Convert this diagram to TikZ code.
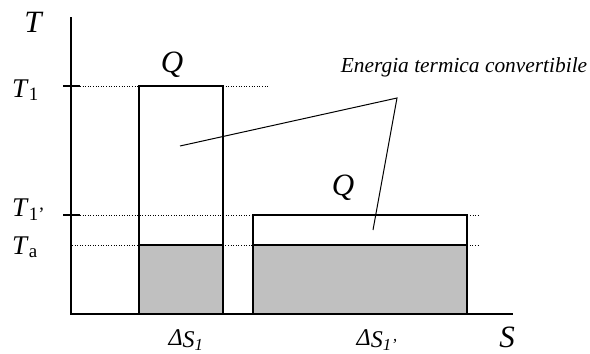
\documentclass[tikz,border=0pt]{standalone}
\usepackage{fontspec}
\setmainfont{Liberation Serif}

\begin{document}
\begin{tikzpicture}[x=1pt,y=-1pt,
  axisline/.style={draw=black,line width=2.6pt,line cap=butt,line join=miter},
  boxline/.style={draw=black,line width=2pt,line join=miter},
  guide/.style={draw=black,line width=0.6pt,dotted},
  pointer/.style={draw=black,line width=1pt,line join=miter},
  heat/.style={fill={rgb,255:red,192;green,192;blue,192}},
  biglabel/.style={anchor=base,inner sep=0pt,font=\fontsize{31}{34}\selectfont\itshape},
  templabel/.style={anchor=base west,inner sep=0pt,font=\fontsize{27}{30}\selectfont},
  entlabel/.style={anchor=base,inner sep=0pt,font=\fontsize{24}{26}\selectfont\itshape}]
% 590 x 354 px, T-S diagram, light appearance
\useasboundingbox (0,0) rectangle (590,354);
\coordinate (origin) at (71,314);
\coordinate (ttop) at (71,17);
\coordinate (send) at (513,314);
% gray parts below Ta
\path[heat] (139,245) rectangle (223,314);
\path[heat] (253,245) rectangle (467,314);
% dotted levels
\path[guide] (80,86) -- (268,86);
\path[guide] (80,215) -- (480,215);
\path[guide] (72,245) -- (480,245);
% boxes
\path[boxline] (139,314) rectangle (223,86);
\path[boxline] (139,245) -- (223,245);
\path[boxline] (253,314) rectangle (467,215);
\path[boxline] (253,245) -- (467,245);
% axes and ticks
\path[axisline] (ttop) -- (origin) -- (send);
\path[axisline] (63,86) -- (80,86);
\path[axisline] (63,215) -- (80,215);
% labels
\node[biglabel] (tlab) at (33,32) {T};
\node[biglabel] (slab) at (507,347) {S};
\node[biglabel] (qone) at (172,72) {Q};
\node[biglabel] (qtwo) at (343,195) {Q};
\node[templabel] (tone) at (12,97) {\textit{T}\textsubscript{1}};
\node[templabel] (toneb) at (12,216) {\textit{T}\textsubscript{1’}};
\node[templabel] (tamb) at (12,254) {\textit{T}\textsubscript{a}};
\node[entlabel] (dsone) at (186,345) {\textit{Δ}\raisebox{-2pt}{\textit{S}\textsubscript{\textit{1}}}};
\node[entlabel] (dstwo) at (377,345) {\textit{Δ}\raisebox{-2pt}{\textit{S}\textsubscript{\textit{1}’}}};
\node[entlabel,font=\fontsize{21.4}{24}\selectfont\itshape] (energy) at (464,72) {Energia termica convertibile};
% pointers
\coordinate (apex) at (397,98);
\coordinate (inone) at (180,146);
\coordinate (intwo) at (373,230);
\path[pointer] (inone) -- (apex) -- (intwo);
\end{tikzpicture}
\end{document}
